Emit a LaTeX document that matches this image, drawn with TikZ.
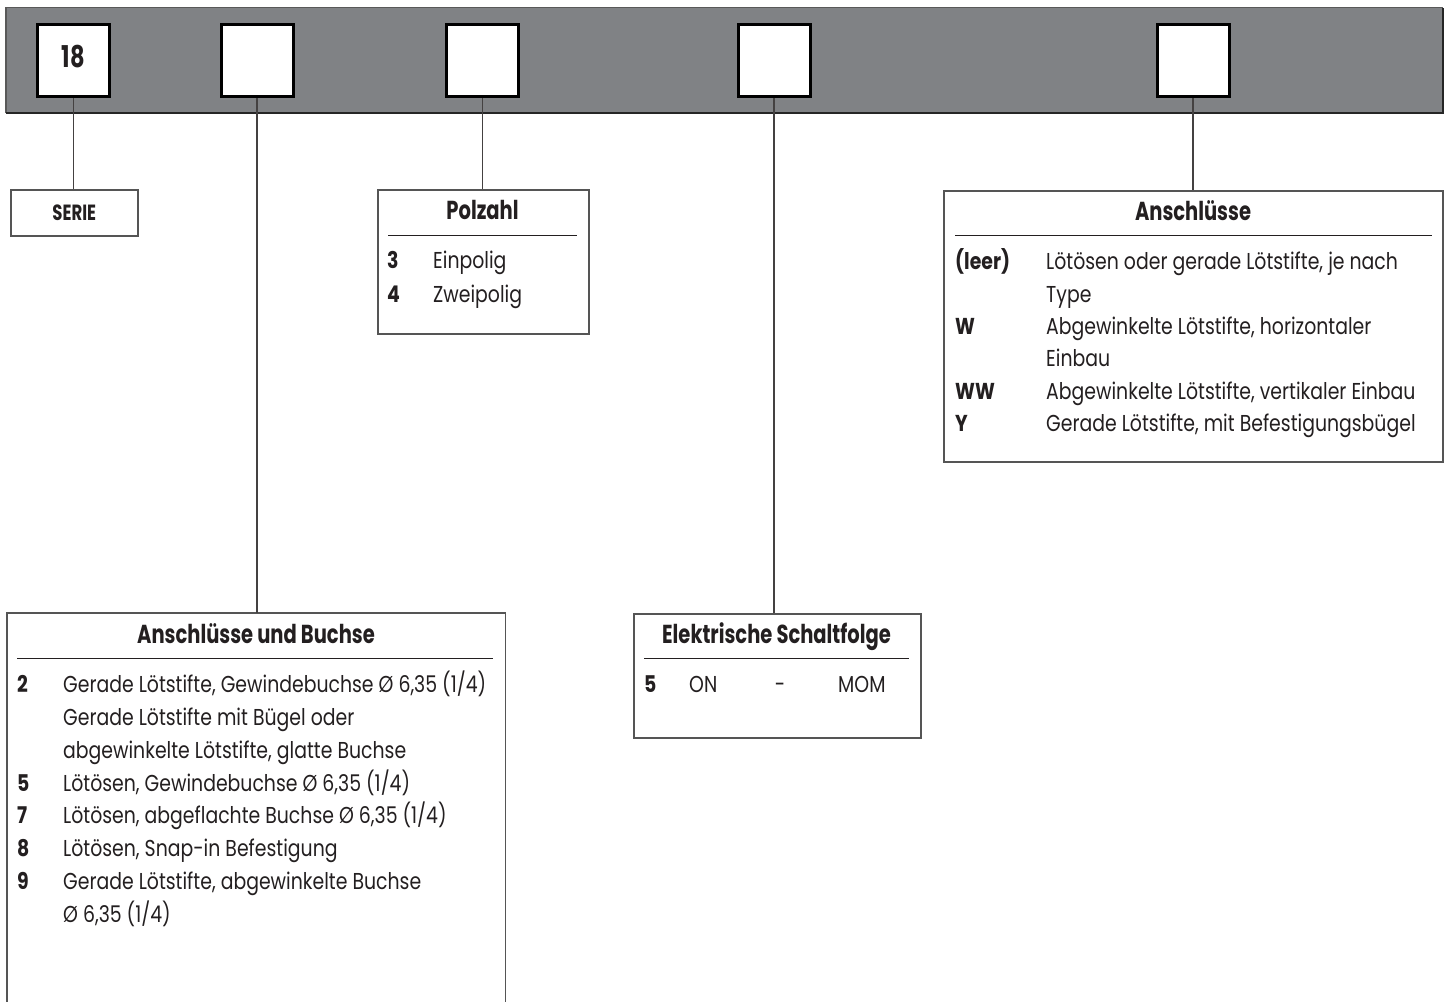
\documentclass[tikz,border=0pt]{standalone}
\usepackage{fontspec}
\setmainfont[FakeStretch=0.82]{Poppins}
\newfontfamily\titlefont[FakeStretch=0.75]{Poppins}
\definecolor{ink}{RGB}{35,31,32}
\definecolor{bargray}{RGB}{128,130,133}
\definecolor{edge}{RGB}{85,85,85}
\tikzset{
  txt/.style={anchor=base west, inner sep=0pt, text=ink, font=\fontsize{23}{27}\selectfont},
  keytxt/.style={anchor=base west, inner sep=0pt, text=ink, font=\fontsize{23}{27}\selectfont\bfseries},
  ttl/.style={anchor=base, inner sep=0pt, text=ink, font=\titlefont\fontsize{26}{30}\selectfont\bfseries},
  codebox/.style={draw=black, line width=3pt, fill=white, minimum width=72, minimum height=72, inner sep=0pt},
  descbox/.style={draw=edge, line width=1.5pt, fill=white, inner sep=0pt, anchor=north west},
  sepline/.style={draw=ink, line width=1pt},
  conn/.style={draw=ink!85, line width=1.2pt}
}
\begin{document}
\begin{tikzpicture}[x=1pt,y=-1pt]
\useasboundingbox (0,0) rectangle (1450,1001);
% bar
\fill[bargray] (6,7.5) rectangle (1443,113);
\draw[line width=1.5pt, draw=black!65] (6,113) -- (6,7.5) -- (1443,7.5);
\draw[line width=1.5pt, draw=black!85] (6,113) -- (1443,113) -- (1443,7.5);
% code boxes
\node[codebox] (b1) at (73.5,60.5) {};
\node[codebox] (b2) at (257,60.5) {};
\node[codebox] (b3) at (482.5,60.5) {};
\node[codebox] (b4) at (774,60.5) {};
\node[codebox] (b5) at (1193,60.5) {};
\node[anchor=base, inner sep=0pt, text=ink, font=\titlefont\fontsize{30}{32}\selectfont\bfseries] (n18) at (73.5,67) {18};

% description boxes
\node[descbox, minimum width=127, minimum height=46] (serie) at (10,189) {};
\node[inner sep=0pt, text=ink, font=\titlefont\fontsize{22}{24}\selectfont\bfseries] (serietxt) at (serie.center) {SERIE};

\node[descbox, minimum width=211, minimum height=144] (pol) at (377,189) {};
\node[descbox, minimum width=499, minimum height=271] (ans) at (943,190) {};
\node[descbox, minimum width=287, minimum height=124] (ele) at (633,613) {};
\node[anchor=north west, inner sep=0pt, minimum width=498, minimum height=400] (ab) at (7,613) {};
\draw[draw=edge, line width=1.5pt] (ab.south west) -- (ab.north west) -- (ab.north east) -- (ab.south east);

% connectors
\draw[conn] (b1.south) -- (b1.south |- serie.north);
\draw[conn] (b2.south) -- (b2.south |- ab.north);
\draw[conn] (b3.south) -- (b3.south |- pol.north);
\draw[conn] (b4.south) -- (b4.south |- ele.north);
\draw[conn] (b5.south) -- (b5.south |- ans.north);

% Polzahl
\node[ttl] (polt) at (482.5,219) {Polzahl};
\draw[sepline] (388,235) -- (577,235);
\node[keytxt] (p3k) at (387,268) {3};
\node[txt] (p3) at (433,268) {Einpolig};
\node[keytxt] (p4k) at (387,302) {4};
\node[txt] (p4) at (433,302) {Zweipolig};

% Anschluesse
\node[ttl] (anst) at (1193,220) {Anschlüsse};
\draw[sepline] (955,235) -- (1432,235);
\node[keytxt] (a1k) at (955,269) {(leer)};
\node[txt] (a1) at (1046,269) {Lötösen oder gerade Lötstifte, je nach};
\node[txt] (a1b) at (1046,302) {Type};
\node[keytxt] (a2k) at (955,334) {W};
\node[txt] (a2) at (1046,334) {Abgewinkelte Lötstifte, horizontaler};
\node[txt] (a2b) at (1046,366) {Einbau};
\node[keytxt] (a3k) at (955,399) {WW};
\node[txt] (a3) at (1046,399) {Abgewinkelte Lötstifte, vertikaler Einbau};
\node[keytxt] (a4k) at (955,431) {Y};
\node[txt] (a4) at (1046,431) {Gerade Lötstifte, mit Befestigungsbügel};

% Elektrische Schaltfolge
\node[ttl] (elet) at (776.5,643) {Elektrische Schaltfolge};
\draw[sepline] (644,658) -- (909,658);
\node[keytxt] (e5k) at (644,692) {5};
\node[txt] (e5a) at (689,692) {ON};
\node[txt, anchor=base] (e5b) at (780,692) {-};
\node[txt] (e5c) at (838,692) {MOM};

% Anschluesse und Buchse
\node[ttl] (abt) at (256,643) {Anschlüsse und Buchse};
\draw[sepline] (17,658) -- (493,658);
\node[keytxt] (k2) at (17,692) {2};
\node[txt] (t2) at (63,692) {Gerade Lötstifte, Gewindebuchse Ø 6,35 (1/4)};
\node[txt] (t2b) at (63,725) {Gerade Lötstifte mit Bügel oder};
\node[txt] (t2c) at (63,758) {abgewinkelte Lötstifte, glatte Buchse};
\node[keytxt] (k5) at (17,791) {5};
\node[txt] (t5) at (63,791) {Lötösen, Gewindebuchse Ø 6,35 (1/4)};
\node[keytxt] (k7) at (17,823) {7};
\node[txt] (t7) at (63,823) {Lötösen, abgeflachte Buchse Ø 6,35 (1/4)};
\node[keytxt] (k8) at (17,856) {8};
\node[txt] (t8) at (63,856) {Lötösen, Snap-in Befestigung};
\node[keytxt] (k9) at (17,889) {9};
\node[txt] (t9) at (63,889) {Gerade Lötstifte, abgewinkelte Buchse};
\node[txt] (t9b) at (63,922) {Ø 6,35 (1/4)};
\end{tikzpicture}
\end{document}
